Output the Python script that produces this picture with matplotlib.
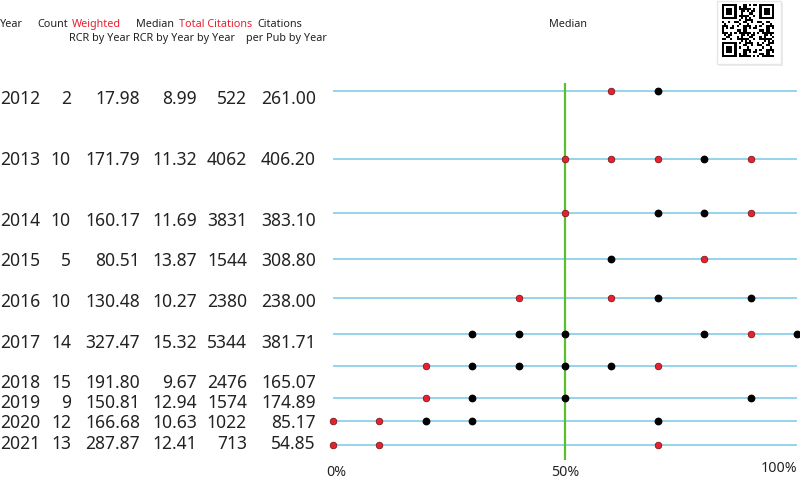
"""Yearly RCR / citation table with percentile dot strip (recreation)."""

import matplotlib
matplotlib.use("Agg")
import matplotlib.pyplot as plt
from matplotlib.patches import Rectangle
import numpy as np

# table rows
years = ["2012", "2013", "2014", "2015", "2016", "2017", "2018", "2019", "2020", "2021"]
counts = ["2", "10", "10", "5", "10", "14", "15", "9", "12", "13"]
weighted_rcr = ["17.98", "171.79", "160.17", "80.51", "130.48", "327.47", "191.80", "150.81", "166.68", "287.87"]
median_rcr = ["8.99", "11.32", "11.69", "13.87", "10.27", "15.32", "9.67", "12.94", "10.63", "12.41"]
total_cites = ["522", "4062", "3831", "1544", "2380", "5344", "2476", "1574", "1022", "713"]
cites_per_pub = ["261.00", "406.20", "383.10", "308.80", "238.00", "381.71", "165.07", "174.89", "85.17", "54.85"]

# percentile dots per strip (red = highlighted, black = others)
red_dots = [
    [60],
    [50, 60, 70, 90],
    [50, 90],
    [80],
    [40, 60],
    [90],
    [20, 70],
    [20],
    [0, 10],
    [0, 10, 70],
]
black_dots = [
    [70],
    [80],
    [70, 80],
    [60],
    [70, 90],
    [30, 40, 50, 80, 100],
    [30, 40, 50, 60],
    [30, 50, 90],
    [20, 30, 70],
    [],
]

# layout (pixel rows of the strips and the text lines)
strip_y = [91, 159, 213, 259, 298, 334, 366, 398, 421, 445]
text_y = [99, 160, 221, 261, 302, 343, 383, 403, 423, 444]

W, H = 800, 479
fig = plt.figure(figsize=(W / 100, H / 100), dpi=100)
fig.patch.set_facecolor("white")

FONT = "Noto Sans"
TXT = "#222222"
RED = "#e8202f"

# text layer in pixel units
tax = fig.add_axes([0, 0, 1, 1])
tax.set_xlim(0, W)
tax.set_ylim(H, 0)
tax.axis("off")

hdr = dict(fontsize=7.8, family=FONT, va="center", ha="left")
tax.text(0, 24, "Year", color=TXT, **hdr)
tax.text(37, 24, "Count", color=TXT, **hdr)
tax.text(72, 24, "Weighted", color=RED, **hdr)
tax.text(136, 24, "Median", color=TXT, **hdr)
tax.text(179, 24, "Total Citations", color=RED, **hdr)
tax.text(257, 24, "Citations", color=TXT, **hdr)
tax.text(69, 38, "RCR by Year", color=TXT, **hdr)
tax.text(133, 38, "RCR by Year by Year", color=TXT, **hdr)
tax.text(246, 38, "per Pub by Year", color=TXT, **hdr)
tax.text(549, 24, "Median", color=TXT, **hdr)

cols = [(0, "left", years), (71, "right", counts), (140, "right", weighted_rcr),
        (197, "right", median_rcr), (247, "right", total_cites), (316, "right", cites_per_pub)]
for x, ha, vals in cols:
    for y, v in zip(text_y, vals):
        tax.text(x, y, v, fontsize=12.6, family=FONT, color=TXT, ha=ha, va="center")

# QR-like badge (decorative)
tax.add_patch(Rectangle((719, 3), 64, 63, facecolor="#ececec", edgecolor="none"))
tax.add_patch(Rectangle((717, 1), 64, 63, facecolor="white", edgecolor="#e6e6e6", lw=1.0))
n = 25
ii, jj = np.meshgrid(np.arange(n), np.arange(n), indexing="ij")
qr = (((ii * ii * 3 + jj * jj * 5 + ii * jj * 7 + ii + 2 * jj) % 11) < 5).astype(float)
for (r0, c0) in [(0, 0), (0, n - 7), (n - 7, 0)]:
    rs = slice(max(r0 - 1, 0), min(r0 + 8, n))
    cs = slice(max(c0 - 1, 0), min(c0 + 8, n))
    qr[rs, cs] = 0
    qr[r0:r0 + 7, c0:c0 + 7] = 1
    qr[r0 + 1:r0 + 6, c0 + 1:c0 + 6] = 0
    qr[r0 + 2:r0 + 5, c0 + 2:c0 + 5] = 1
qax = fig.add_axes([722 / W, 1 - 57 / H, 52 / W, 53 / H])
qax.imshow(qr, cmap="Greys", interpolation="nearest", aspect="auto")
qax.axis("off")

# dot strip axes: x in percent, y in pixel rows
ax = fig.add_axes([333 / W, 0, 464 / W, 1])
ax.set_xlim(0, 100)
ax.set_ylim(H, 0)
ax.axis("off")
ax.patch.set_alpha(0)

ax.hlines(strip_y, 0, 100, color="#8fd0ec", lw=1.3, zorder=1)
ax.vlines(50, 83, 460, color="#5cbf2a", lw=1.6, zorder=2)

for y, reds, blacks in zip(strip_y, red_dots, black_dots):
    ax.plot(blacks, [y] * len(blacks), "o", ms=4.6, color="black", zorder=3, clip_on=False)
    ax.plot(reds, [y] * len(reds), "o", ms=4.8, color=RED, mec="#6a1010", mew=0.5, zorder=4, clip_on=False)

ax.text(0.7, 473, "0%", fontsize=10.2, family=FONT, color=TXT, ha="center", va="center")
ax.text(50, 473, "50%", fontsize=10.2, family=FONT, color=TXT, ha="center", va="center")
ax.text(100, 468, "100%", fontsize=10.2, family=FONT, color=TXT, ha="right", va="center")

fig.savefig("out.png", dpi=100, facecolor="white")
